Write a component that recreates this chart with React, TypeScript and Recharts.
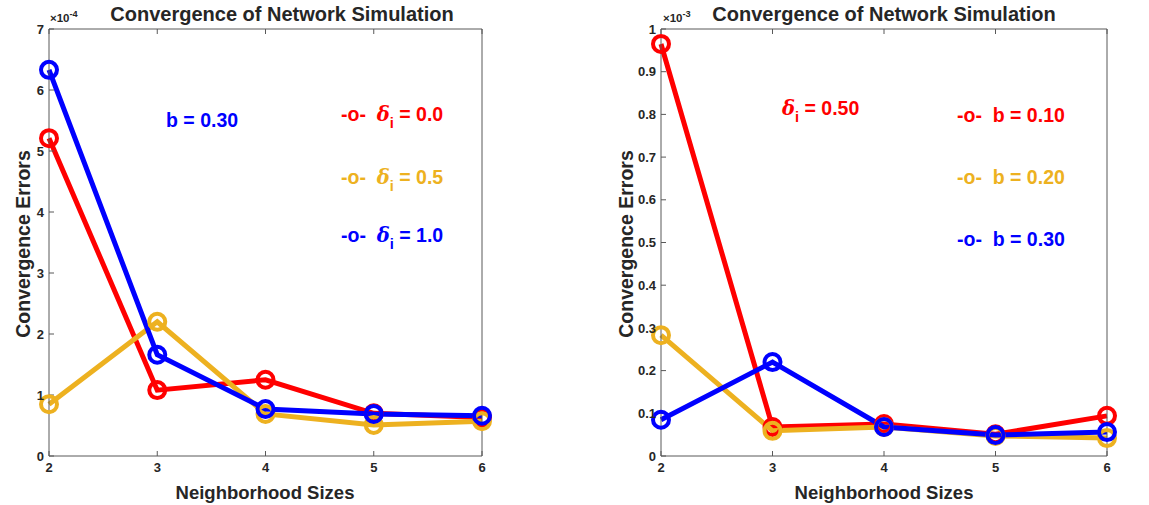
import React from "react";
import { LineChart, Line, XAxis, YAxis } from "recharts";

const FONT = "'Liberation Sans', Arial, Helvetica, sans-serif";

// neighborhood sizes on the x axis
const sizes = [2, 3, 4, 5, 6];

// left panel, values in units of 1e-4 (b = 0.30)
const leftDelta00 = [5.21, 1.08, 1.25, 0.7, 0.63];
const leftDelta05 = [0.85, 2.2, 0.69, 0.51, 0.57];
const leftDelta10 = [6.33, 1.66, 0.77, 0.69, 0.66];
const leftTicks = [0, 1, 2, 3, 4, 5, 6, 7];

// right panel, values in units of 1e-3 (delta_i = 0.50)
const rightB010 = [0.965, 0.068, 0.075, 0.051, 0.094];
const rightB020 = [0.283, 0.059, 0.068, 0.047, 0.042];
const rightB030 = [0.085, 0.22, 0.068, 0.049, 0.056];
const rightTicks = [0, 0.1, 0.2, 0.3, 0.4, 0.5, 0.6, 0.7, 0.8, 0.9, 1];

const RED = "#ff0000";
const ORANGE = "#edb120";
const BLUE = "#0000ff";
const AXIS = "#595959";
const TEXT = "#262626";

const leftData = sizes.map((n, i) => ({
  n,
  a: leftDelta00[i],
  b: leftDelta05[i],
  c: leftDelta10[i],
}));

const rightData = sizes.map((n, i) => ({
  n,
  a: rightB010[i],
  b: rightB020[i],
  c: rightB030[i],
}));

const tickStyle = { fill: TEXT, fontSize: 13, fontWeight: "bold", fontFamily: FONT };

function Txt({
  x,
  y,
  color = TEXT,
  size = 18,
  center = false,
  rotate = false,
  children,
}: {
  x: number;
  y: number;
  color?: string;
  size?: number;
  center?: boolean;
  rotate?: boolean;
  children: React.ReactNode;
}) {
  let transform = center ? "translate(-50%,-50%)" : "translate(0,-50%)";
  if (rotate) transform = "translate(-50%,-50%) rotate(-90deg)";
  return (
    <div
      style={{
        position: "absolute",
        left: x,
        top: y,
        transform,
        color,
        fontSize: size,
        fontWeight: "bold",
        fontFamily: FONT,
        lineHeight: 1,
        whiteSpace: "nowrap",
      }}
    >
      {children}
    </div>
  );
}

const Delta = () => (
  <>
    <i style={{ fontFamily: "'DejaVu Serif', serif", fontWeight: "bold" }}>δ</i>
    <sub style={{ fontSize: "0.75em", verticalAlign: "-0.45em" }}>i</sub>
  </>
);

function Panel({
  data,
  ticks,
  yMax,
  fmt,
  width,
  margin,
  yWidth,
}: {
  data: { n: number; a: number; b: number; c: number }[];
  ticks: number[];
  yMax: number;
  fmt: (v: number) => string;
  width: number;
  margin: { top: number; right: number; left: number; bottom: number };
  yWidth: number;
}) {
  const dot = { r: 8, strokeWidth: 4, fill: "none" };
  return (
    <LineChart width={width} height={505} data={data} margin={margin}>
      <XAxis
        dataKey="n"
        type="number"
        domain={[2, 6]}
        ticks={sizes}
        height={49}
        stroke={AXIS}
        tickSize={-5}
        tickMargin={12}
        fontSize={13}
        tick={tickStyle}
      />
      <XAxis
        xAxisId="top"
        dataKey="n"
        orientation="top"
        type="number"
        domain={[2, 6]}
        ticks={sizes}
        height={1}
        stroke={AXIS}
        tickSize={-5}
        tickFormatter={() => ""}
      />
      <YAxis
        type="number"
        domain={[0, yMax]}
        ticks={ticks}
        width={yWidth}
        stroke={AXIS}
        tickSize={-5}
        tickMargin={10}
        fontSize={13}
        tick={tickStyle}
        tickFormatter={fmt}
      />
      <YAxis
        yAxisId="right"
        orientation="right"
        type="number"
        domain={[0, yMax]}
        ticks={ticks}
        width={1}
        stroke={AXIS}
        tickSize={-5}
        tickFormatter={() => ""}
      />
      <Line dataKey="a" stroke={RED} strokeWidth={5} dot={dot} isAnimationActive={false} />
      <Line dataKey="b" stroke={ORANGE} strokeWidth={5} dot={dot} isAnimationActive={false} />
      <Line dataKey="c" stroke={BLUE} strokeWidth={5} dot={dot} isAnimationActive={false} />
    </LineChart>
  );
}

export default function App() {
  return (
    <div
      style={{
        position: "absolute",
        left: 0,
        top: 0,
        width: 1149,
        height: 505,
        background: "#fff",
        overflow: "hidden",
      }}
    >
      <div style={{ position: "absolute", left: 0, top: 0 }}>
        <Panel
          data={leftData}
          ticks={leftTicks}
          yMax={7}
          fmt={(v) => String(v)}
          width={500}
          margin={{ top: 28, right: 17, left: 19, bottom: 0 }}
          yWidth={30}
        />
      </div>
      <div style={{ position: "absolute", left: 580, top: 0 }}>
        <Panel
          data={rightData}
          ticks={rightTicks}
          yMax={1}
          fmt={(v) => (v === 0 ? "0" : v === 1 ? "1" : v.toFixed(1))}
          width={569}
          margin={{ top: 28, right: 41, left: 41, bottom: 0 }}
          yWidth={40}
        />
      </div>

      {/* left panel texts */}
      <Txt x={282} y={14} size={20} center>
        Convergence of Network Simulation
      </Txt>
      <Txt x={50} y={17} size={11.5}>
        ×10<sup style={{ fontSize: "0.8em" }}>-4</sup>
      </Txt>
      <Txt x={24} y={244} size={19.5} rotate>
        Convergence Errors
      </Txt>
      <Txt x={265} y={493} size={18.5} center>
        Neighborhood Sizes
      </Txt>
      <Txt x={166} y={121} size={19.5} color={BLUE}>
        b = 0.30
      </Txt>
      <Txt x={341} y={118} size={19.5} color={RED}>
        -o-&nbsp;&nbsp;<Delta /> = 0.0
      </Txt>
      <Txt x={341} y={181} size={19.5} color={ORANGE}>
        -o-&nbsp;&nbsp;<Delta /> = 0.5
      </Txt>
      <Txt x={341} y={239} size={19.5} color={BLUE}>
        -o-&nbsp;&nbsp;<Delta /> = 1.0
      </Txt>

      {/* right panel texts */}
      <Txt x={884} y={14} size={20} center>
        Convergence of Network Simulation
      </Txt>
      <Txt x={663} y={17} size={11.5}>
        ×10<sup style={{ fontSize: "0.8em" }}>-3</sup>
      </Txt>
      <Txt x={627} y={244} size={19.5} rotate>
        Convergence Errors
      </Txt>
      <Txt x={884} y={493} size={18.5} center>
        Neighborhood Sizes
      </Txt>
      <Txt x={782} y={112} size={19.5} color={RED}>
        <Delta /> = 0.50
      </Txt>
      <Txt x={957} y={116} size={19.5} color={RED}>
        -o-&nbsp;&nbsp;b = 0.10
      </Txt>
      <Txt x={957} y={178} size={19.5} color={ORANGE}>
        -o-&nbsp;&nbsp;b = 0.20
      </Txt>
      <Txt x={957} y={240} size={19.5} color={BLUE}>
        -o-&nbsp;&nbsp;b = 0.30
      </Txt>
    </div>
  );
}
